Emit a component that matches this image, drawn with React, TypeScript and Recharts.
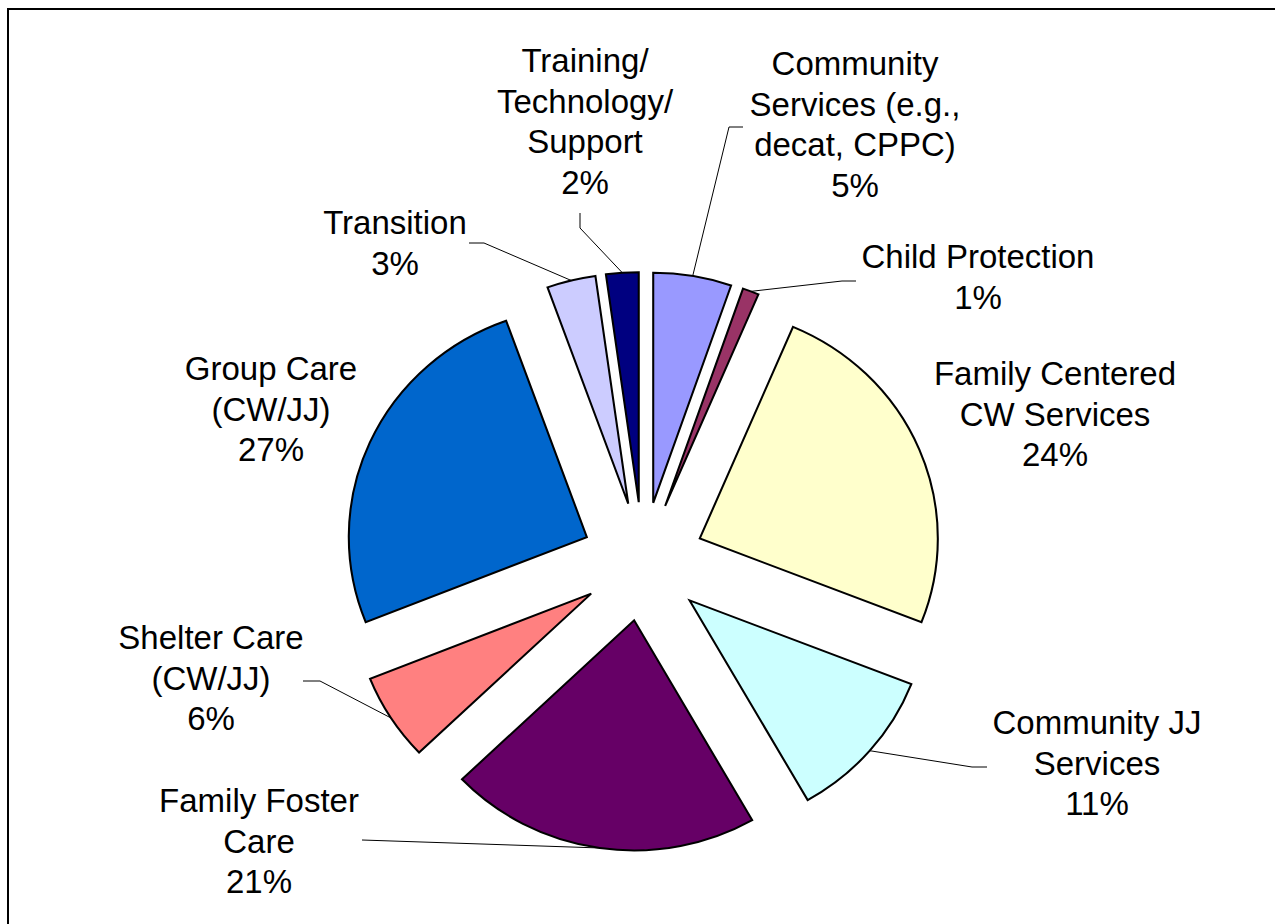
import React from 'react'
import { PieChart, Pie, Cell } from 'recharts'

// Exploded pie, slices clockwise from 12 o'clock.
const categories = [
  'Community Services (e.g., decat, CPPC)',
  'Child Protection',
  'Family Centered CW Services',
  'Community JJ Services',
  'Family Foster Care',
  'Shelter Care (CW/JJ)',
  'Group Care (CW/JJ)',
  'Transition',
  'Training/Technology/Support',
]

// how each category name is broken over lines in the label
const labelLines = [
  ['Community', 'Services (e.g.,', 'decat, CPPC)'],
  ['Child Protection'],
  ['Family Centered', 'CW Services'],
  ['Community JJ', 'Services'],
  ['Family Foster', 'Care'],
  ['Shelter Care', '(CW/JJ)'],
  ['Group Care', '(CW/JJ)'],
  ['Transition'],
  ['Training/', 'Technology/', 'Support'],
]

const sliceShares = [5.3, 1.1, 24.5, 10.8, 21.1, 6.1, 25.5, 3.3, 2.2]
// percentages as printed on the chart
const percentLabels = ['5%', '1%', '24%', '11%', '21%', '6%', '27%', '3%', '2%']

const colors = ['#9999FF', '#993366', '#FFFFCC', '#CCFFFF', '#660066', '#FF8080', '#0066CC', '#CCCCFF', '#000080']

const data = categories.map((name, i) => ({ name, value: sliceShares[i] }))

// layout
const W = 1275
const H = 924
const CX = 643
const CY = 561.5
const R = 230
const SX = 1.035 // the original pie is slightly wider than tall
const EXPLODE = 59.5
const FONT = 33
const LINE_H = 40.5

// label text position (center x, first baseline) + leader line knee points, by slice
const LABEL_LAYOUT: { x: number; y: number; knee: number[][] }[] = [
  { x: 855, y: 75, knee: [[743, 127], [729, 127]] },
  { x: 978, y: 268, knee: [[856, 281], [842, 281]] },
  { x: 1055, y: 385, knee: [] },
  { x: 1097, y: 734, knee: [[987, 767], [972, 767]] },
  { x: 259, y: 812, knee: [[362, 840]] },
  { x: 211, y: 649, knee: [[303, 681], [320, 681]] },
  { x: 271, y: 380, knee: [] },
  { x: 395, y: 234, knee: [[469, 243], [484, 243]] },
  { x: 585, y: 72, knee: [[580, 213], [580, 228]] },
]

const RAD = Math.PI / 180
const total = sliceShares.reduce((a, b) => a + b, 0)

// offset of each slice's center along its mid angle
function explodedCenter(i: number) {
  const before = sliceShares.slice(0, i).reduce((a, b) => a + b, 0)
  const frac = (before + sliceShares[i] / 2) / total
  const theta = frac * 360 * RAD // clockwise from top
  return { cx: CX + EXPLODE * Math.sin(theta), cy: CY - EXPLODE * Math.cos(theta) }
}

function makeLabel(k: number) {
  return (props: any) => {
    if (props.index !== k) return null
    const lay = LABEL_LAYOUT[k]
    const a = -props.midAngle * RAD
    const px = props.cx + props.outerRadius * Math.cos(a)
    const ey = props.cy + props.outerRadius * Math.sin(a)
    const ex = CX + (px - CX) * SX
    const pts = lay.knee.length ? [...lay.knee, [ex, ey]] : []
    const lines = [...labelLines[k], percentLabels[k]]
    return (
      <g>
        {pts.length > 0 && (
          <polyline
            points={pts.map((p) => p.join(',')).join(' ')}
            fill="none"
            stroke="#000"
            strokeWidth={1}
          />
        )}
        <text
          x={lay.x}
          y={lay.y}
          textAnchor="middle"
          fontFamily="'Liberation Sans', Arial, sans-serif"
          fontSize={FONT}
          fill="#000"
        >
          {lines.map((ln, j) => (
            <tspan key={j} x={lay.x} dy={j === 0 ? 0 : LINE_H}>
              {ln}
            </tspan>
          ))}
        </text>
      </g>
    )
  }
}

export default function App() {
  return (
    <div
      style={{
        position: 'absolute',
        left: 0,
        top: 0,
        width: W,
        height: H,
        overflow: 'hidden',
        background: '#fff',
      }}
    >
      <style>{`
        .stretch-pie .recharts-sector {
          transform: translate(${CX}px, ${CY}px) scale(${SX}, 1) translate(${-CX}px, ${-CY}px);
        }
      `}</style>
      <div
        style={{
          position: 'absolute',
          left: 7,
          top: 8,
          width: W + 50,
          height: H + 50,
          borderLeft: '2px solid #000',
          borderTop: '2px solid #000',
        }}
      />
      <div className="stretch-pie" style={{ position: 'absolute', left: 0, top: 0 }}>
        <PieChart width={W} height={H} margin={{ top: 0, right: 0, bottom: 0, left: 0 }}>
          {categories.map((_, k) => {
            const c = explodedCenter(k)
            return (
              <Pie
                key={k}
                data={data}
                dataKey="value"
                nameKey="name"
                cx={c.cx}
                cy={c.cy}
                outerRadius={R}
                startAngle={90}
                endAngle={-270}
                label={makeLabel(k)}
                labelLine={false}
                isAnimationActive={false}
              >
                {data.map((_, i) => (
                  <Cell
                    key={i}
                    fill={i === k ? colors[i] : 'none'}
                    stroke={i === k ? '#000' : 'none'}
                    strokeWidth={2}
                  />
                ))}
              </Pie>
            )
          })}
        </PieChart>
      </div>
    </div>
  )
}
